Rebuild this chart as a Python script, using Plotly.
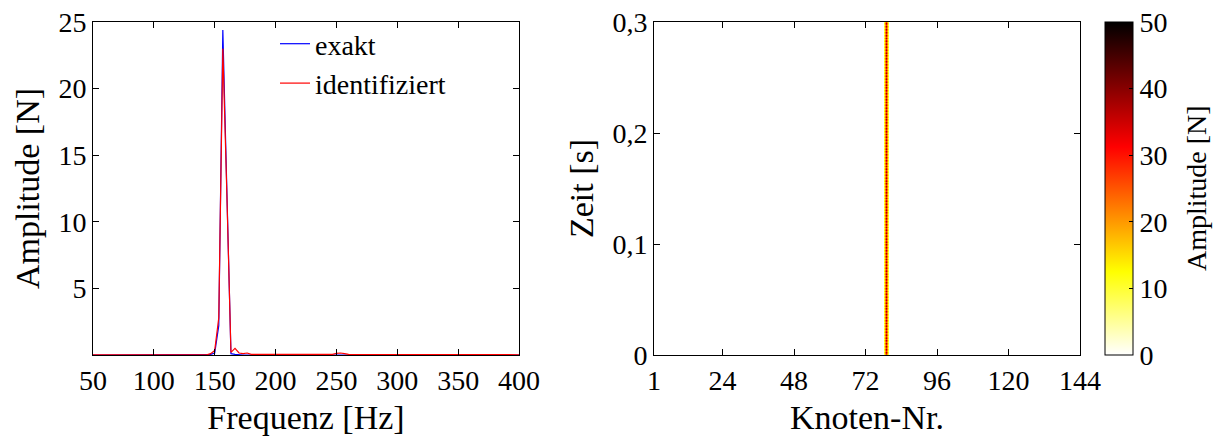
import numpy as np
import plotly.graph_objects as go

# ---------------- data: left panel (spectrum) ----------------
freq_hz = [50, 143.33, 146.67, 150.0, 153.33, 156.67, 160.0, 163.33, 166.67,
           170.0, 173.33, 176.67, 180.0, 246.67, 250.0, 253.33, 256.67, 260.0, 400]
amp_exakt = [0, 0, 0.05, 0.15, 2.2, 24.4, 12.5, 0.1, 0.05,
             0, 0, 0, 0, 0, 0, 0, 0, 0, 0]
amp_ident = [0.02, 0.02, 0.1, 0.35, 2.8, 23.0, 12.0, 0.2, 0.5,
             0.15, 0.1, 0.15, 0.05, 0.05, 0.12, 0.15, 0.1, 0.05, 0.02]
x_ticks_left = [50, 100, 150, 200, 250, 300, 350, 400]
y_ticks_left = [5, 10, 15, 20, 25]

# ---------------- data: right panel (node/time map) ----------------
nodes = list(range(1, 145))
loaded_node = 79
strip_values = [
    38, 27, 38, 27, 38, 27, 38, 27, 38, 27, 38, 27, 38, 27, 38, 27, 38, 27, 38, 27,
    38, 27, 38, 27, 38, 27, 38, 27, 38, 27, 38, 27, 38, 27, 38, 27, 38, 27, 38, 27,
    38, 27, 38, 27, 38, 27, 38, 27, 38, 27, 38, 27, 38, 27, 38, 27, 38, 27, 38, 27,
    38, 27, 38, 27, 38, 27, 38, 27, 38, 27, 38, 27, 38, 27, 38, 27, 38, 27, 38, 27,
    38, 27, 38, 27, 38, 27, 38, 27, 38, 27, 38, 27, 38, 27, 38, 27, 38, 27, 38, 27,
    38, 27, 38, 27, 38, 27, 38, 27, 38, 27, 38, 27, 38, 27, 38, 27, 38, 27, 38, 27,
    38, 27, 38, 27, 38, 27, 38, 27, 38, 27, 38, 27, 38, 27, 38, 27, 38, 27, 38, 27,
    38, 27, 38, 27, 38, 27, 38, 27, 38, 27, 38, 27, 38, 27, 38, 27, 38, 27, 38, 27,
    38, 27, 38, 27, 38, 27, 38, 27, 38, 27, 38, 27, 38, 27, 38, 27, 38, 27, 38, 27,
    38, 27, 38, 27, 38, 27, 38, 27, 38, 27, 38, 27, 38, 27, 38, 27, 38, 27, 38, 27,
    38, 27, 38, 27, 38, 27, 38, 27, 38, 27, 38, 27, 38, 27, 38, 27, 38, 27, 38, 27,
    38, 27, 38, 27, 38, 27, 38, 27, 38, 27,
]
time_s = np.linspace(0, 0.3, len(strip_values))
x_ticks_right = [1, 24, 48, 72, 96, 120, 144]
y_ticks_right = [0, 0.1, 0.2, 0.3]
y_ticktext_right = ["0", "0,1", "0,2", "0,3"]
cbar_ticks = [0, 10, 20, 30, 40, 50]

z = np.zeros((len(time_s), len(nodes)))
z[:, nodes.index(loaded_node)] = strip_values

FONT = "Liberation Serif"
FS = 28
W, H = 1223, 439

fig = go.Figure()
fig.add_trace(go.Scatter(x=freq_hz, y=amp_exakt, mode="lines", name="exakt",
                         line=dict(color="#0000ff", width=1.2), xaxis="x", yaxis="y"))
fig.add_trace(go.Scatter(x=freq_hz, y=amp_ident, mode="lines", name="identifiziert",
                         line=dict(color="#ff0000", width=1.2), xaxis="x", yaxis="y"))

fig.add_trace(go.Heatmap(
    x=nodes, y=time_s, z=z, zmin=0, zmax=50, zsmooth="best",
    colorscale=[[0, "#ffffff"], [0.25, "#ffff00"], [0.625, "#ff0000"], [1, "#000000"]],
    showlegend=False, xaxis="x2", yaxis="y2",
    colorbar=dict(
        x=1105 / W, xanchor="left", thickness=28, thicknessmode="pixels",
        y=84 / H, yanchor="bottom", len=333 / H, lenmode="fraction",
        outlinewidth=1, outlinecolor="black",
        tickvals=cbar_ticks, ticks="inside", ticklen=4, tickcolor="black",
        tickfont=dict(family=FONT, size=FS, color="black"),
        xpad=0, ypad=0,
    ),
))

axis_common = dict(showline=True, linecolor="black", linewidth=1, mirror="ticks",
                   ticks="inside", ticklen=6, tickcolor="black", showgrid=False,
                   zeroline=False, automargin=False,
                   tickfont=dict(family=FONT, size=FS, color="black"))

fig.update_layout(
    width=W, height=H,
    margin=dict(l=0, r=0, t=0, b=0, autoexpand=False),
    paper_bgcolor="white", plot_bgcolor="white",
    font=dict(family=FONT, size=FS, color="black"),
    xaxis=dict(domain=[93 / W, 519 / W], range=[50, 400], tickvals=x_ticks_left,
               title=dict(text="Frequenz [Hz]", standoff=10), anchor="y", **axis_common),
    yaxis=dict(domain=[84 / H, 417 / H], range=[0, 25], tickvals=y_ticks_left,
               title=dict(text="Amplitude [N]", standoff=8), anchor="x", **axis_common),
    xaxis2=dict(domain=[654 / W, 1080 / W], range=[1, 144], tickvals=x_ticks_right,
                title=dict(text="Knoten-Nr.", standoff=10), anchor="y2", **axis_common),
    yaxis2=dict(domain=[84 / H, 417 / H], range=[0, 0.3], tickvals=y_ticks_right,
                ticktext=y_ticktext_right,
                title=dict(text="Zeit [s]", standoff=8), anchor="x2", **axis_common),
    legend=dict(x=275 / W, xanchor="left", y=1 - 19 / H, yanchor="top",
                bgcolor="rgba(0,0,0,0)", font=dict(family=FONT, size=FS, color="black"),
                itemwidth=30, tracegroupgap=0),
    annotations=[dict(text="Amplitude [N]", textangle=-90, x=1196 / W, y=(439 - 188) / H,
                      xref="paper", yref="paper", xanchor="center", yanchor="middle",
                      showarrow=False, font=dict(family=FONT, size=FS, color="black"))],
)

fig.write_html("out.html")
